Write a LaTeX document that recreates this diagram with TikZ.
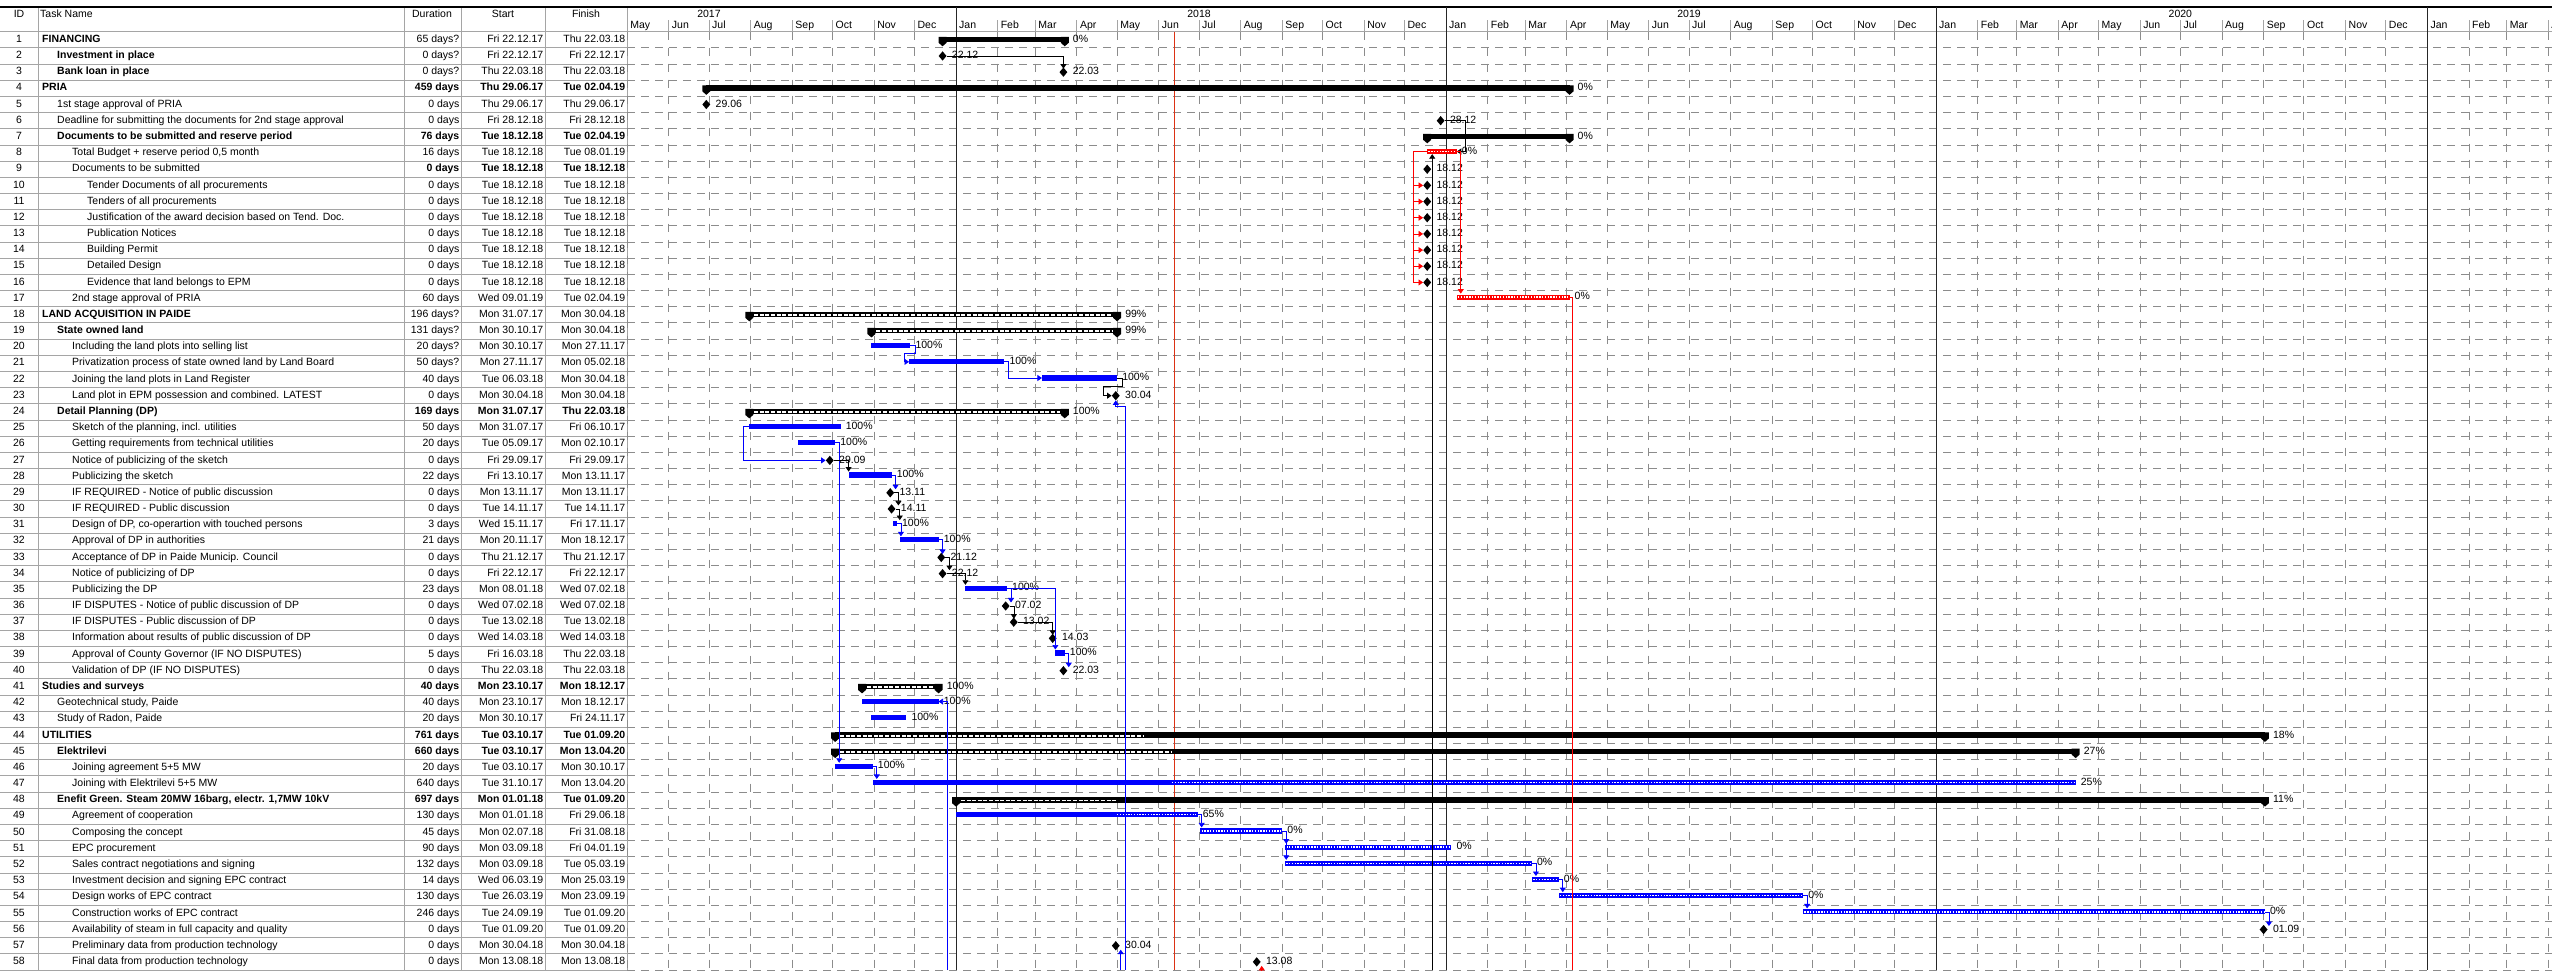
\documentclass[tikz,border=0pt]{standalone}
\usepackage{fontspec}
\setmainfont{Liberation Sans}
\usepackage{pgfcalendar}
\usetikzlibrary{arrows.meta,positioning,calc,shapes.geometric}

\definecolor{tablegray}{RGB}{165,165,165}
\definecolor{gridgray}{RGB}{140,140,140}
\definecolor{taskblue}{RGB}{0,0,255}
\definecolor{critred}{RGB}{255,0,0}
\definecolor{nowred}{RGB}{220,50,20}

\newcommand\gfont{\fontsize{10.5}{12}\selectfont}
\newcount\jd
% date -> x (1pt per pixel, 1 Jan 2018 at x=956)
\newcommand\tox[3]{%
  \pgfcalendardatetojulian{#2}{\jd}%
  \advance\jd by -2458120\relax
  \advance\jd by #3\relax
  \pgfmathsetmacro#1{956+1.3425*\the\jd}}

\tikzset{
  cell/.style={font=\gfont, inner sep=0pt, text height=7.5pt, text depth=2.2pt},
  nrm/.style={},
  bld/.style={font=\gfont\bfseries},
  pct/.style={cell, anchor=west},
  ms/.style={diamond, fill=black, inner sep=0pt, minimum width=8pt, minimum height=9.5pt},
  tgrid/.style={draw=tablegray, line width=0.8pt},
  cgrid/.style={draw=gridgray, line width=0.8pt, dash pattern=on 8pt off 6pt},
  vgrid/.style={draw=gridgray, line width=0.8pt, dash pattern=on 8pt off 8pt},
  yearline/.style={draw=black!85, line width=0.8pt},
  lnk/.style={line width=0.7pt, -{Triangle[length=4.5pt,width=6pt]}},
  lnkb/.style={lnk, taskblue},
  lnkr/.style={lnk, critred},
}

% summary bar: row, start, finish, progress until, label
\newcommand\sumbar[5]{%
  \tox\xa{#2}{0}\tox\xb{#3}{1}\tox\xp{#4}{0}%
  \pgfmathsetmacro\yc{ry(#1)}%
  \pgfmathsetmacro\xp{min(\xp,\xb-5)}%
  \fill (\xa,\yc+3) rectangle (\xb,\yc-2.5);
  \ifdim\xp pt>\xa pt
    \draw[white, line width=1.8pt, dash pattern=on 4pt off 1.6pt] (\xa+5,\yc-0.3) -- (\xp,\yc-0.3);
  \fi
  \foreach \ex in {\xa,\xb}{
    \fill (\ex-4,\yc+3) -- ++(8,0) -- ++(0,-6) -- ++(-4,-3.5) -- ++(-4,3.5) -- cycle;
  }
  \coordinate (s#1) at (\xa,\yc);
  \coordinate (e#1) at (\xb,\yc);
  \node[pct, right=8pt of e#1] (p#1) {#5};
}
% task bar: colour, row, start, finish, done until, label
\newcommand\tbar[6][taskblue]{%
  \tox\xa{#3}{0}\tox\xf{#4}{0}\tox\xb{#4}{1}\tox\xp{#5}{0}%
  \pgfmathsetmacro\yc{ry(#2)+1.5}%
  \ifdim\xp pt<\xf pt\else\let\xp\xb\fi
  \fill[#1] (\xa,\yc-2.6) rectangle (\xb,\yc+2.6);
  \ifdim\xp pt<\xb pt
    \draw[white, line width=1.4pt, dash pattern=on 1.4pt off 1.4pt] (\xp+1.2,\yc) -- (\xb-1.2,\yc);
  \fi
  \coordinate (s#2) at (\xa,\yc);
  \coordinate (e#2) at (\xb,\yc);
  \node[pct, right=5pt of e#2] (p#2) {#6};
}
% milestone: row, date, label
\newcommand\mile[3]{%
  \tox\xa{#2}{0}%
  \pgfmathsetmacro\yc{ry(#1)}%
  \node[ms] (m#1) at (\xa,\yc) {};
  \coordinate (s#1) at (m#1.center);
  \coordinate (e#1) at (m#1.east);
  \node[pct, right=5pt of m#1] (p#1) {#3};
}
% finish-to-start link
\newcommand\fs[3][lnk]{%
  \draw[#1] let \p1=(e#2), \p2=(s#3), \n1={max(\x1+4,\x2)} in
    (\p1) -- (\n1,\y1) -- (\n1,\y2+3.5);
}

\begin{document}
\begin{tikzpicture}[x=1pt,y=1pt,
  declare function={ry(\x)=-(31.7+(\x-0.5)*16.177); rb(\x)=-(31.7+\x*16.177);}]
  \useasboundingbox (0,0) rectangle (2552,-970);
  \clip (0,0) rectangle (2552,-970);
  \coordinate (bot) at (0,-970);

  % table and chart grid
  \foreach \row in {1,...,58}{
    \draw[tgrid] (0,{rb(\row)}) -- (627,{rb(\row)});
    \draw[cgrid] (627,{rb(\row)}) -- (2552,{rb(\row)});
  }
  \draw[tgrid] (0,-31.7) -- (2552,-31.7);
  \foreach \cx in {38,404,461,545,627}{
    \draw[tgrid] (\cx,-7) -- (\cx,-970);
  }
  \draw[black, line width=1.5pt] (0,-7) -- (2552,-7);

  % time scale
  \foreach \yr in {2017,...,2021}{
    \foreach \mo/\mn in {1/Jan,2/Feb,3/Mar,4/Apr,5/May,6/Jun,7/Jul,8/Aug,9/Sep,10/Oct,11/Nov,12/Dec}{
      \tox\xm{\yr-\mo-01}{0}
      \ifdim\xm pt>626pt
        \ifdim\xm pt<2552pt
          \ifnum\mo=1
            \draw[yearline] (\xm,-7) -- (\xm,-970);
          \else
            \draw[tgrid] (\xm,-20) -- (\xm,-31.7);
            \draw[vgrid] (\xm,-31.7) -- (\xm,-970);
          \fi
          \node[cell, anchor=west] (mo\yr-\mo) at (\xm+3,-26) {\mn};
        \fi
      \fi
    }
  }
  \foreach \yr in {2017,...,2020}{
    \tox\xm{\yr-07-01}{0}
    \node[cell] (yr\yr) at (\xm,-14.5) {\yr};
  }
  \tox\xn{2018-06-13}{0}
  \draw[nowred, line width=0.9pt] (\xn,-31.7) -- (\xn,-970);

  % header
  \node[cell] (hid) at (19,-15) {ID};
  \node[cell, anchor=west] (hname) at (40,-15) {Task Name};
  \node[cell] (hdur) at (432,-15) {Duration};
  \node[cell] (hstart) at (503,-15) {Start};
  \node[cell] (hfin) at (586,-15) {Finish};

  % table
  \foreach \i/\lv/\ns/\vs/\nm/\du/\st/\fin in {
    1/0/bld/nrm/FINANCING/65 days?/Fri 22.12.17/Thu 22.03.18,
    2/1/bld/nrm/Investment in place/0 days?/Fri 22.12.17/Fri 22.12.17,
    3/1/bld/nrm/Bank loan in place/0 days?/Thu 22.03.18/Thu 22.03.18,
    4/0/bld/bld/PRIA/459 days/Thu 29.06.17/Tue 02.04.19,
    5/1/nrm/nrm/1st stage approval of PRIA/0 days/Thu 29.06.17/Thu 29.06.17,
    6/1/nrm/nrm/Deadline for submitting the documents for 2nd stage approval/0 days/Fri 28.12.18/Fri 28.12.18,
    7/1/bld/bld/Documents to be submitted and reserve period/76 days/Tue 18.12.18/Tue 02.04.19,
    8/2/nrm/nrm/{Total Budget + reserve period 0,5 month}/16 days/Tue 18.12.18/Tue 08.01.19,
    9/2/nrm/bld/Documents to be submitted/0 days/Tue 18.12.18/Tue 18.12.18,
    10/3/nrm/nrm/Tender Documents of all procurements/0 days/Tue 18.12.18/Tue 18.12.18,
    11/3/nrm/nrm/Tenders of all procurements/0 days/Tue 18.12.18/Tue 18.12.18,
    12/3/nrm/nrm/Justification of the award decision based on Tend. Doc./0 days/Tue 18.12.18/Tue 18.12.18,
    13/3/nrm/nrm/Publication Notices/0 days/Tue 18.12.18/Tue 18.12.18,
    14/3/nrm/nrm/Building Permit/0 days/Tue 18.12.18/Tue 18.12.18,
    15/3/nrm/nrm/Detailed Design/0 days/Tue 18.12.18/Tue 18.12.18,
    16/3/nrm/nrm/Evidence that land belongs to EPM/0 days/Tue 18.12.18/Tue 18.12.18,
    17/2/nrm/nrm/2nd stage approval of PRIA/60 days/Wed 09.01.19/Tue 02.04.19,
    18/0/bld/nrm/LAND ACQUISITION IN PAIDE/196 days?/Mon 31.07.17/Mon 30.04.18,
    19/1/bld/nrm/State owned land/131 days?/Mon 30.10.17/Mon 30.04.18,
    20/2/nrm/nrm/Including the land plots into selling list/20 days?/Mon 30.10.17/Mon 27.11.17,
    21/2/nrm/nrm/Privatization process of state owned land by Land Board/50 days?/Mon 27.11.17/Mon 05.02.18,
    22/2/nrm/nrm/Joining the land plots in Land Register/40 days/Tue 06.03.18/Mon 30.04.18,
    23/2/nrm/nrm/Land plot in EPM possession and combined. LATEST/0 days/Mon 30.04.18/Mon 30.04.18,
    24/1/bld/bld/Detail Planning (DP)/169 days/Mon 31.07.17/Thu 22.03.18,
    25/2/nrm/nrm/{Sketch of the planning, incl. utilities}/50 days/Mon 31.07.17/Fri 06.10.17,
    26/2/nrm/nrm/Getting requirements from technical utilities/20 days/Tue 05.09.17/Mon 02.10.17,
    27/2/nrm/nrm/Notice of publicizing of the sketch/0 days/Fri 29.09.17/Fri 29.09.17,
    28/2/nrm/nrm/Publicizing the sketch/22 days/Fri 13.10.17/Mon 13.11.17,
    29/2/nrm/nrm/IF REQUIRED - Notice of public discussion/0 days/Mon 13.11.17/Mon 13.11.17,
    30/2/nrm/nrm/IF REQUIRED - Public discussion/0 days/Tue 14.11.17/Tue 14.11.17,
    31/2/nrm/nrm/{Design of DP, co-operartion with touched persons}/3 days/Wed 15.11.17/Fri 17.11.17,
    32/2/nrm/nrm/Approval of DP in authorities/21 days/Mon 20.11.17/Mon 18.12.17,
    33/2/nrm/nrm/Acceptance of DP in Paide Municip. Council/0 days/Thu 21.12.17/Thu 21.12.17,
    34/2/nrm/nrm/Notice of publicizing of DP/0 days/Fri 22.12.17/Fri 22.12.17,
    35/2/nrm/nrm/Publicizing the DP/23 days/Mon 08.01.18/Wed 07.02.18,
    36/2/nrm/nrm/IF DISPUTES - Notice of public discussion of DP/0 days/Wed 07.02.18/Wed 07.02.18,
    37/2/nrm/nrm/IF DISPUTES - Public discussion of DP/0 days/Tue 13.02.18/Tue 13.02.18,
    38/2/nrm/nrm/Information about results of public discussion of DP/0 days/Wed 14.03.18/Wed 14.03.18,
    39/2/nrm/nrm/Approval of County Governor (IF NO DISPUTES)/5 days/Fri 16.03.18/Thu 22.03.18,
    40/2/nrm/nrm/Validation of DP (IF NO DISPUTES)/0 days/Thu 22.03.18/Thu 22.03.18,
    41/0/bld/bld/Studies and surveys/40 days/Mon 23.10.17/Mon 18.12.17,
    42/1/nrm/nrm/{Geotechnical study, Paide}/40 days/Mon 23.10.17/Mon 18.12.17,
    43/1/nrm/nrm/{Study of Radon, Paide}/20 days/Mon 30.10.17/Fri 24.11.17,
    44/0/bld/bld/UTILITIES/761 days/Tue 03.10.17/Tue 01.09.20,
    45/1/bld/bld/Elektrilevi/660 days/Tue 03.10.17/Mon 13.04.20,
    46/2/nrm/nrm/Joining agreement 5+5 MW/20 days/Tue 03.10.17/Mon 30.10.17,
    47/2/nrm/nrm/Joining with Elektrilevi 5+5 MW/640 days/Tue 31.10.17/Mon 13.04.20,
    48/1/bld/bld/{Enefit Green. Steam 20MW 16barg, electr. 1,7MW 10kV}/697 days/Mon 01.01.18/Tue 01.09.20,
    49/2/nrm/nrm/Agreement of cooperation/130 days/Mon 01.01.18/Fri 29.06.18,
    50/2/nrm/nrm/Composing the concept/45 days/Mon 02.07.18/Fri 31.08.18,
    51/2/nrm/nrm/EPC procurement/90 days/Mon 03.09.18/Fri 04.01.19,
    52/2/nrm/nrm/Sales contract negotiations and signing/132 days/Mon 03.09.18/Tue 05.03.19,
    53/2/nrm/nrm/Investment decision and signing EPC contract/14 days/Wed 06.03.19/Mon 25.03.19,
    54/2/nrm/nrm/Design works of EPC contract/130 days/Tue 26.03.19/Mon 23.09.19,
    55/2/nrm/nrm/Construction works of EPC contract/246 days/Tue 24.09.19/Tue 01.09.20,
    56/2/nrm/nrm/Availability of steam in full capacity and quality/0 days/Tue 01.09.20/Tue 01.09.20,
    57/2/nrm/nrm/Preliminary data from production technology/0 days/Mon 30.04.18/Mon 30.04.18,
    58/2/nrm/nrm/Final data from production technology/0 days/Mon 13.08.18/Mon 13.08.18}{
    \node[cell] (id\i) at (19,{ry(\i)}) {\i};
    \node[cell, \ns, anchor=west] (tn\i) at ({42+15*\lv},{ry(\i)}) {\nm};
    \node[cell, \vs, anchor=east] (du\i) at (459.5,{ry(\i)}) {\du};
    \node[cell, \vs, anchor=east] (st\i) at (543.5,{ry(\i)}) {\st};
    \node[cell, \vs, anchor=east] (fi\i) at (625.5,{ry(\i)}) {\fin};
  }

  % summary bars
  \sumbar{1}{2017-12-22}{2018-03-22}{2017-12-22}{0\%}
  \sumbar{4}{2017-06-29}{2019-04-02}{2017-06-29}{0\%}
  \sumbar{7}{2018-12-18}{2019-04-02}{2018-12-18}{0\%}
  \sumbar{18}{2017-07-31}{2018-04-30}{2018-05-01}{99\%}
  \sumbar{19}{2017-10-30}{2018-04-30}{2018-05-01}{99\%}
  \sumbar{24}{2017-07-31}{2018-03-22}{2018-03-23}{100\%}
  \sumbar{41}{2017-10-23}{2017-12-18}{2017-12-19}{100\%}
  \sumbar{44}{2017-10-03}{2020-09-01}{2018-05-21}{18\%}
  \sumbar{45}{2017-10-03}{2020-04-13}{2018-06-10}{27\%}
  \sumbar{48}{2018-01-01}{2020-09-01}{2018-04-30}{11\%}

  % tasks
  \tbar[critred]{8}{2018-12-18}{2019-01-08}{2018-12-18}{0\%}
  \tbar[critred]{17}{2019-01-09}{2019-04-02}{2019-01-09}{0\%}
  \tbar{20}{2017-10-30}{2017-11-27}{2017-11-27}{100\%}
  \tbar{21}{2017-11-27}{2018-02-05}{2018-02-05}{100\%}
  \tbar{22}{2018-03-06}{2018-04-30}{2018-04-30}{100\%}
  \tbar{25}{2017-07-31}{2017-10-06}{2017-10-06}{100\%}
  \tbar{26}{2017-09-05}{2017-10-02}{2017-10-02}{100\%}
  \tbar{28}{2017-10-13}{2017-11-13}{2017-11-13}{100\%}
  \tbar{31}{2017-11-15}{2017-11-17}{2017-11-17}{100\%}
  \tbar{32}{2017-11-20}{2017-12-18}{2017-12-18}{100\%}
  \tbar{35}{2018-01-08}{2018-02-07}{2018-02-07}{100\%}
  \tbar{39}{2018-03-16}{2018-03-22}{2018-03-22}{100\%}
  \tbar{42}{2017-10-23}{2017-12-18}{2017-12-18}{100\%}
  \tbar{43}{2017-10-30}{2017-11-24}{2017-11-24}{100\%}
  \tbar{46}{2017-10-03}{2017-10-30}{2017-10-30}{100\%}
  \tbar{47}{2017-10-31}{2020-04-13}{2018-06-10}{25\%}
  \tbar{49}{2018-01-01}{2018-06-29}{2018-04-30}{65\%}
  \tbar{50}{2018-07-02}{2018-08-31}{2018-07-02}{0\%}
  \tbar{51}{2018-09-03}{2019-01-04}{2018-09-03}{0\%}
  \tbar{52}{2018-09-03}{2019-03-05}{2018-09-03}{0\%}
  \tbar{53}{2019-03-06}{2019-03-25}{2019-03-06}{0\%}
  \tbar{54}{2019-03-26}{2019-09-23}{2019-03-26}{0\%}
  \tbar{55}{2019-09-24}{2020-09-01}{2019-09-24}{0\%}

  % milestones
  \mile{2}{2017-12-22}{22.12}
  \mile{3}{2018-03-22}{22.03}
  \mile{5}{2017-06-29}{29.06}
  \mile{6}{2018-12-28}{28.12}
  \foreach \row in {9,...,16}{
    \mile{\row}{2018-12-18}{18.12}
  }
  \mile{23}{2018-04-30}{30.04}
  \mile{27}{2017-09-29}{29.09}
  \mile{29}{2017-11-13}{13.11}
  \mile{30}{2017-11-14}{14.11}
  \mile{33}{2017-12-21}{21.12}
  \mile{34}{2017-12-22}{22.12}
  \mile{36}{2018-02-07}{07.02}
  \mile{37}{2018-02-13}{13.02}
  \mile{38}{2018-03-14}{14.03}
  \mile{40}{2018-03-22}{22.03}
  \mile{56}{2020-09-01}{01.09}
  \mile{57}{2018-04-30}{30.04}
  \mile{58}{2018-08-13}{13.08}

  % links
  \fs{2}{3}
  \draw[lnk] (e6) -- ++(20,0) |- (e8);
  \fs[lnkr]{8}{17}
  \coordinate (rb) at ($(s8)+(-14,0)$);
  \draw[critred, line width=0.7pt] (s8) -- (rb) -- (rb |- m16);
  \foreach \row in {10,...,16}{
    \draw[lnkr] (rb |- m\row) -- (m\row.west);
  }
  \draw[lnkb] (e20) -- ++(5,0) -- ++(0,-8) -| ($(s21)+(-5,0)$) -- (s21);
  \draw[lnkb] (e21) -- ++(4,0) |- (s22);
  \draw[lnk] (e22) -- ++(5,0) -- ++(0,-8) -| ($(m23.west)+(-8,0)$) -- (m23.west);
  \draw[lnkb] (s25) -- ++(-6,0) |- (m27.west);
  \fs[lnkb]{26}{46}
  \fs{27}{28}
  \fs[lnkb]{28}{29}
  \fs{29}{30}
  \fs{30}{31}
  \fs[lnkb]{31}{32}
  \fs[lnkb]{32}{33}
  \fs{33}{34}
  \fs{34}{35}
  \fs[lnkb]{35}{36}
  \fs[lnkb]{35}{39}
  \fs{36}{37}
  \fs{37}{38}
  \fs[lnkb]{39}{40}
  \fs[lnkb]{46}{47}
  \fs[lnkb]{49}{50}
  \fs[lnkb]{50}{51}
  \fs[lnkb]{50}{52}
  \fs[lnkb]{52}{53}
  \fs[lnkb]{53}{54}
  \fs[lnkb]{54}{55}
  \fs[lnkb]{55}{56}

  % links to tasks below the visible rows
  \coordinate (out8) at ($(s8 |- bot)+(5,0)$);
  \coordinate (out17) at ($(e17 |- bot)+(3,0)$);
  \coordinate (out42) at ($(e42 |- bot)+(8.5,0)$);
  \coordinate (out23) at ($(s23 |- bot)+(10,0)$);
  \coordinate (out57) at ($(s57 |- bot)+(5,0)$);
  \coordinate (out58) at ($(s58 |- bot)+(5,0)$);
  \draw[lnk] (out8) -- ($(s8)+(5,-2.6)$);
  \draw[critred, line width=0.7pt] (e17) -- ++(3,0) -- (out17);
  \draw[lnkb] (out42) |- (e42);
  \draw[lnkb] (out23) |- ($(s23)+(0,-11)$) -- ($(s23)+(0,-4.7)$);
  \draw[lnkb] (out57) -- ($(s57)+(5,-4)$);
  \draw[lnkr] (out58) -- ($(s58)+(5,-4)$);
\end{tikzpicture}
\end{document}
